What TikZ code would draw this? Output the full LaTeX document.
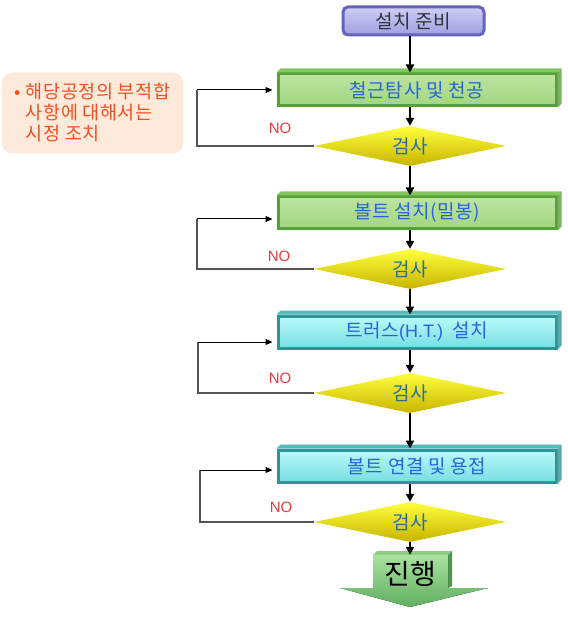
\documentclass[tikz,border=0pt]{standalone}
\usepackage{fontspec}
\setmainfont{Noto Sans CJK KR}
\newfontfamily\latsans{Liberation Sans}
\newfontfamily\krwide[LetterSpace=3]{Noto Sans CJK KR}
\usetikzlibrary{shapes.geometric,arrows.meta,calc}
\definecolor{grD}{RGB}{88,160,58}
\definecolor{grT}{RGB}{190,228,160}
\definecolor{grB}{RGB}{160,214,128}
\definecolor{grL}{RGB}{130,200,95}
\definecolor{cyD}{RGB}{48,148,150}
\definecolor{cyT}{RGB}{185,250,250}
\definecolor{cyB}{RGB}{120,222,226}
\definecolor{cyL}{RGB}{80,185,188}
\definecolor{stD}{RGB}{100,100,190}
\definecolor{stT}{RGB}{205,205,245}
\definecolor{stB}{RGB}{160,160,225}
\definecolor{boxtext}{RGB}{40,100,215}
\definecolor{chktext}{RGB}{40,110,160}
\definecolor{yelT}{RGB}{255,255,60}
\definecolor{yelB}{RGB}{200,180,0}
\definecolor{nored}{RGB}{230,60,60}
\definecolor{notefill}{RGB}{253,234,218}
\definecolor{notetext}{RGB}{240,80,35}
\definecolor{loopgray}{RGB}{85,85,85}
\definecolor{goT}{RGB}{170,225,160}
\definecolor{goB}{RGB}{95,175,95}
\definecolor{goL}{RGB}{140,205,130}
\newcommand\topside[3]{%
  \fill[#2] (#1.north west) -- ++(4pt,4pt) -- ([shift={(4pt,4pt)}]#1.north east) -- (#1.north east) -- cycle;
  \fill[#3] (#1.north east) -- ++(4pt,4pt) -- ([shift={(4pt,4pt)}]#1.south east) -- (#1.south east) -- cycle;}
\begin{document}
\begin{tikzpicture}[x=1pt,y=-1pt,
  boxbase/.style={rectangle, line width=3pt, minimum width=278pt, minimum height=32pt, inner sep=0pt,
     text=boxtext, font=\krwide\fontsize{19}{20}\selectfont},
  greenbox/.style={boxbase, draw=grD, top color=grT, bottom color=grB},
  cyanbox/.style={boxbase, draw=cyD, top color=cyT, bottom color=cyB},
  startbox/.style={rectangle, rounded corners=5pt, line width=3pt, draw=stD, top color=stT, bottom color=stB,
     minimum width=141pt, minimum height=28pt, inner sep=0pt, text={rgb,255:red,50;green,50;blue,60},
     font=\krwide\fontsize{19}{20}\selectfont},
  check/.style={diamond, aspect=4.8, minimum width=192pt, minimum height=40pt, inner sep=0pt,
     top color=yelT, middle color=yellow, bottom color=yelB, text=chktext, font=\krwide\fontsize{19}{20}\selectfont},
  nolabel/.style={text=nored, font=\latsans\fontsize{15}{16}\selectfont, inner sep=0pt},
  notebox/.style={rectangle, rounded corners=10pt, fill=notefill, minimum width=181pt, minimum height=81pt,
     text=notetext, align=left, font=\krwide\fontsize{18.5}{21}\selectfont, inner sep=0pt},
  spine/.style={draw=black, line width=2pt, -{Triangle[length=8pt,width=8pt]}},
  loopline/.style={draw=loopgray, line width=1.3pt},
  looparrow/.style={draw=black, line width=1pt, -{Triangle[length=7pt,width=6pt]}, shorten >=4pt},
  gotext/.style={rectangle, minimum width=75pt, minimum height=37pt, inner sep=0pt, text=black,
     font=\fontsize{28}{30}\selectfont}
]
\useasboundingbox (0,0) rectangle (567,617);

% note
\node[notebox] (note) at (92.5,113) {\makebox[11pt][l]{•}해당공정의 부적합\\\makebox[11pt][l]{}사항에 대해서는\\\makebox[11pt][l]{}시정 조치};

% start
\node[startbox] (start) at (413.5,21) {설치 준비};

% boxes
\node[greenbox] (b1) at (417,90) {철근탐사 및 천공};
\topside{b1}{grL}{grD!80}
\node[greenbox] (b2) at (417,213) {볼트 설치(밀봉)};
\topside{b2}{grL}{grD!80}
\node[cyanbox] (b3) at (417,332) {트러스{\latsans\fontsize{18}{19}\selectfont(H.T.)}\ \ 설치};
\topside{b3}{cyL}{cyD!80}
\node[cyanbox] (b4) at (417,466) {볼트 연결 및 용접};
\topside{b4}{cyL}{cyD!80}

% checks
\node[check] (d1) at (410,146) {검사};
\node[check] (d2) at (410,269) {검사};
\node[check] (d3) at (410,393) {검사};
\node[check] (d4) at (410,522) {검사};

% go arrow
\fill[goL] (373,555) -- (377,551) -- (452,551) -- (448,555) -- cycle;
\fill[goB!85!black] (448,555) -- (452,551) -- (452,586) -- (448,588) -- cycle;
\fill[top color=goT, bottom color=goB] (373,555) -- (448,555) -- (448,588) -- (488,588) -- (410,607) -- (340,588) -- (373,588) -- cycle;
\node[gotext] (go) at (410.5,573.5) {진행};

% spine
\draw[spine] (start.south -| d1.north) -- (d1.north |- b1.north);
\draw[spine] (b1.south -| d1.north) -- (d1.north);
\draw[spine] (d1.south) -- (d1.south |- b2.north);
\draw[spine] (b2.south -| d2.north) -- (d2.north);
\draw[spine] (d2.south) -- (d2.south |- b3.north);
\draw[spine] (b3.south -| d3.north) -- (d3.north);
\draw[spine] (d3.south) -- (d3.south |- b4.north);
\draw[spine] (b4.south -| d4.north) -- (d4.north);
\draw[spine] (d4.south) -- (d4.south |- go.north);

% loops
\coordinate (k1) at (197,90);
\coordinate (k2) at (197,219);
\coordinate (k3) at (198,342);
\coordinate (k4) at (200,470);
\draw[loopline] (d1.west) -| (k1);
\draw[looparrow] (k1) -- (k1 -| b1.west);
\draw[loopline] (d2.west) -| (k2);
\draw[looparrow] (k2) -- (k2 -| b2.west);
\draw[loopline] (d3.west) -| (k3);
\draw[looparrow] (k3) -- (k3 -| b3.west);
\draw[loopline] (d4.west) -| (k4);
\draw[looparrow] (k4) -- (k4 -| b4.west);

\node[nolabel] (no1) at (280,128) {NO};
\node[nolabel] (no2) at (279,256) {NO};
\node[nolabel] (no3) at (280,378) {NO};
\node[nolabel] (no4) at (281,507) {NO};
\end{tikzpicture}
\end{document}
